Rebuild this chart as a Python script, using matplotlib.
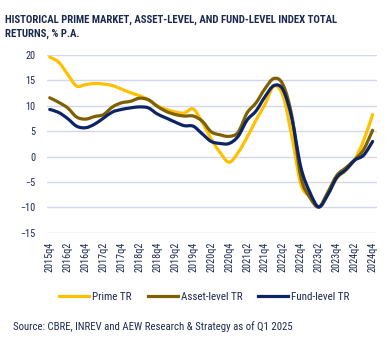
import os
import numpy as np
import matplotlib.pyplot as plt
from matplotlib import font_manager as fm
from matplotlib.path import Path
from matplotlib.patches import PathPatch
from matplotlib.lines import Line2D

quarters = [f"{y}q{q}" for y in range(2015, 2025) for q in range(1, 5)][3:]

prime_tr = [19.6, 18.6, 16.2, 13.9, 14.2, 14.4, 14.3, 14.0, 13.3, 12.6,
            12.0, 11.2, 10.0, 9.3, 8.8, 8.6, 9.4, 6.8, 3.5, 0.8,
            -1.1, 0.8, 3.8, 7.2, 10.3, 13.9, 12.0, 4.0, -5.4, -7.9,
            -9.9, -7.5, -4.3, -2.7, -0.6, 3.2, 8.3]
asset_tr = [11.6, 10.7, 9.6, 7.8, 7.4, 7.9, 8.3, 9.8, 10.6, 10.9,
            11.5, 11.2, 9.9, 8.9, 8.3, 8.0, 8.0, 7.0, 4.9, 4.3,
            4.0, 4.8, 8.6, 10.6, 13.4, 15.4, 14.2, 8.0, -4.0, -8.0,
            -9.9, -7.0, -3.7, -2.2, -0.6, 1.4, 5.2]
fund_tr = [9.3, 8.7, 7.5, 6.0, 5.7, 6.4, 7.6, 8.8, 9.3, 9.6,
           9.8, 9.6, 8.4, 7.6, 6.8, 6.1, 6.0, 4.5, 3.0, 2.6,
           2.6, 4.0, 7.2, 9.0, 11.8, 14.0, 13.2, 7.5, -2.1, -7.0,
           -9.9, -7.5, -4.1, -2.6, -0.7, 0.3, 3.0]

series = [("Prime TR", prime_tr, "#FFC000"),
          ("Asset-level TR", asset_tr, "#7F6000"),
          ("Fund-level TR", fund_tr, "#0B2465")]

title = "HISTORICAL PRIME MARKET, ASSET-LEVEL, AND FUND-LEVEL INDEX TOTAL\nRETURNS, % P.A."
source = "Source: CBRE, INREV and AEW Research & Strategy as of Q1 2025"

navy = "#1B2850"
grid_c = "#D3D7EE"

# look for a condensed face on this machine, fall back to Liberation Sans
font_files = [f.fname for f in fm.fontManager.ttflist]


def pick(keys, weight="normal"):
    for k in keys:
        for f in font_files:
            if os.path.basename(f).lower().startswith(k.lower()):
                return fm.FontProperties(fname=f)
    return fm.FontProperties(family="Liberation Sans", weight=weight)


bold_keys = ["RobotoCondensed-Bold", "NotoSans-CondensedBold", "LiberationSansNarrow-Bold",
             "OpenSans_Condensed-Bold", "OpenSans-CondensedBold", "OpenSansCondensed-Bold"]
reg_keys = ["RobotoCondensed-Regular", "NotoSans-Condensed.", "NotoSans-CondensedMedium",
            "LiberationSansNarrow-Regular", "OpenSans_Condensed-Regular", "OpenSansCondensed-Regular"]

bold_fp = pick(bold_keys, "bold")
reg_fp = pick(reg_keys)

fig = plt.figure(figsize=(3.92, 3.40), dpi=100)
renderer = fig.canvas.get_renderer()


def size_for(text, fp, width_px, base=10.0):
    # font size (pt) that makes `text` span width_px pixels
    probe = fig.text(0, 0, text, fontproperties=fp.copy())
    probe.set_fontsize(base)
    w = probe.get_window_extent(renderer).width
    probe.remove()
    return base * width_px / w


def smooth_path(x, y):
    # cubic bezier through every point (catmull-rom style tangents)
    pts = np.column_stack([x, y]).astype(float)
    verts = [pts[0]]
    codes = [Path.MOVETO]
    n = len(pts)
    for i in range(n - 1):
        p0 = pts[max(i - 1, 0)]
        p1 = pts[i]
        p2 = pts[i + 1]
        p3 = pts[min(i + 2, n - 1)]
        c1 = p1 + (p2 - p0) / 6.0
        c2 = p2 - (p3 - p1) / 6.0
        verts += [c1, c2, p2]
        codes += [Path.CURVE4] * 3
    return Path(verts, codes)


title_size = min(size_for(title.split("\n")[0], bold_fp, 332), 9.0)
tick_size = size_for("2015q4", reg_fp, 30)
legend_size = size_for("Asset-level TR", reg_fp, 61)
source_size = size_for(source, reg_fp, 277)

ax = fig.add_axes([0.12, 0.315, 0.842, 0.523])

x = np.arange(len(quarters))
handles = []
for name, vals, col in series:
    patch = PathPatch(smooth_path(x, vals), fill=False, edgecolor=col,
                      lw=2.3, capstyle="round", joinstyle="round")
    ax.add_patch(patch)
    handles.append(Line2D([], [], color=col, lw=2.3, label=name))

ax.set_xlim(-0.3, len(quarters) - 0.5)
ax.set_ylim(-15, 20)
ax.set_yticks(range(-15, 21, 5))
ax.set_xticks(x[::2])
ax.set_xticklabels(quarters[::2], rotation=90)
ax.yaxis.grid(True, color=grid_c, lw=1)
ax.set_axisbelow(True)
for s in ax.spines.values():
    s.set_visible(False)
ax.tick_params(length=0, colors=navy)
ax.tick_params(axis="y", pad=8.5)
ax.tick_params(axis="x", pad=6.5)
tick_fp = reg_fp.copy()
tick_fp.set_size(tick_size)
for lab in ax.get_xticklabels() + ax.get_yticklabels():
    lab.set_fontproperties(tick_fp)
    lab.set_color(navy)

title_fp = bold_fp.copy()
title_fp.set_size(title_size)
fig.text(0.013, 0.958, title, ha="left", va="top", color=navy,
         fontproperties=title_fp, linespacing=1.45)

legend_fp = reg_fp.copy()
legend_fp.set_size(legend_size)
px = legend_size * 100 / 72
fig.legend(handles=handles, loc="center", bbox_to_anchor=(0.522, 0.127),
           ncol=3, frameon=False, handlelength=30 / px, columnspacing=16 / px,
           handletextpad=3 / px, prop=legend_fp, labelcolor=navy)

source_fp = reg_fp.copy()
source_fp.set_size(source_size)
fig.text(0.032, 0.04, source, ha="left", va="center", color=navy,
         fontproperties=source_fp)

fig.savefig("out.png", dpi=100)
